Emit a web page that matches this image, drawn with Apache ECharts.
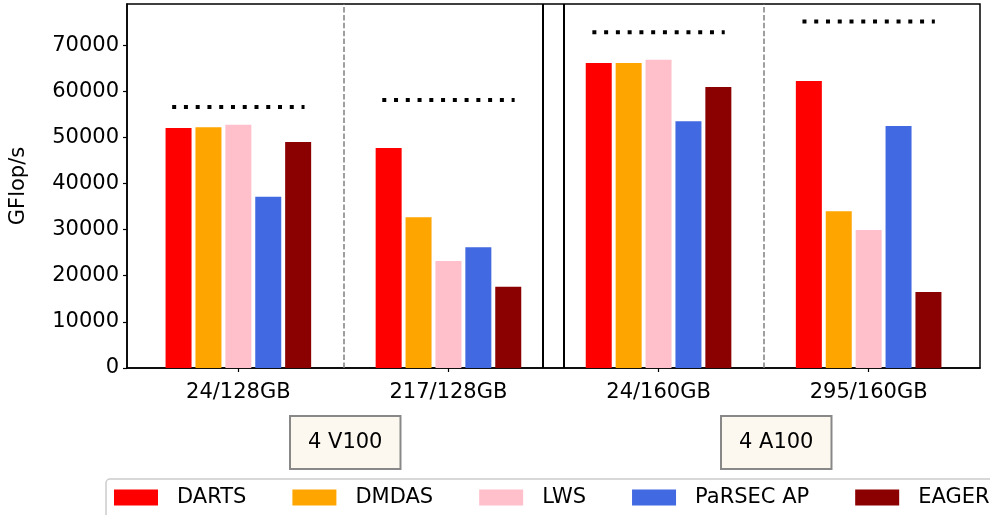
<!DOCTYPE html>
<html>
<head>
<meta charset="utf-8">
<title>GFlop/s per configuration</title>
<script src="https://cdn.jsdelivr.net/npm/echarts@6/dist/echarts.min.js"></script>
<style>
  html, body { margin: 0; padding: 0; background: #ffffff; }
  #chart { width: 990px; height: 515px; }
</style>
</head>
<body>
<div id="chart"></div>
<script>
// Problem size / memory configurations, two per GPU platform
const categories = ['24/128GB', '217/128GB', '24/160GB', '295/160GB'];
const platforms = ['4 V100', '4 A100'];

// Scheduler names and measured throughput (GFlop/s)
const schedulers = ['DARTS', 'DMDAS', 'LWS', 'PaRSEC AP', 'EAGER'];
const darts  = [52000, 47700, 66100, 62200];
const dmdas  = [52200, 32700, 66100, 34000];
const lws    = [52700, 23200, 66800, 29900];
const parsec = [37100, 26200, 53500, 52450];
const eager  = [49000, 17600, 60900, 16500];

// Theoretical peak for each configuration (dotted line above each group)
const peak = [56600, 58100, 72800, 75100];

// Y-axis tick labels
const yTicks = [0, 10000, 20000, 30000, 40000, 50000, 60000, 70000];

const seriesValues = [darts, dmdas, lws, parsec, eager];
const colors = ['#ff0000', '#ffa500', '#ffc0cb', '#4169e1', '#8b0000'];

const FONT = 'DejaVu Sans';
const PEAK_HALF_SPAN = 0.315;   // half length of the peak marker, in group units

const chart = echarts.init(document.getElementById('chart'), null, { renderer: 'canvas' });

const groupIdx = categories.map((_, i) => i);

const barSeries = schedulers.map((name, s) => ({
  name: name,
  type: 'bar',
  barWidth: 26,
  barGap: '15%',
  itemStyle: { color: colors[s] },
  data: seriesValues[s].map((v, i) => [i, v]),
  animation: false
}));

// Peak markers: one horizontal dotted segment per group, broken between groups
const peakData = [];
peak.forEach((p, i) => {
  peakData.push([i - PEAK_HALF_SPAN, p]);
  peakData.push([i + PEAK_HALF_SPAN, p]);
  peakData.push([i + 0.5, '-']);
});

// Separators: dashed between the two sizes of a platform, double line between platforms
const dashedSep = [0.5, 2.5];
const platformSep = [1.45, 1.55];

const peakSeries = {
  name: 'peak',
  type: 'line',
  data: peakData,
  showSymbol: false,
  symbol: 'none',
  connectNulls: false,
  lineStyle: { color: '#000000', width: 4, type: [4, 7.76], cap: 'butt' },
  animation: false,
  z: 5,
  markLine: {
    silent: true,
    symbol: ['none', 'none'],
    label: { show: false },
    animation: false,
    data: [
      ...dashedSep.map(x => ({ xAxis: x, lineStyle: { color: '#808080', width: 1.5, type: [5.5, 2.4] } })),
      ...platformSep.map(x => ({ xAxis: x, lineStyle: { color: '#000000', width: 2, type: 'solid' } }))
    ]
  }
};

const option = {
  backgroundColor: '#ffffff',
  textStyle: { fontFamily: FONT },
  grid: {
    left: 124, right: 10, top: 4, bottom: 147,
    show: true, borderColor: '#000000', borderWidth: 1.5,
    containLabel: false
  },
  xAxis: {
    type: 'value',
    min: -0.53,
    max: 3.53,
    splitLine: { show: false },
    axisLine: { show: true, onZero: false, lineStyle: { color: '#000000', width: 1.5 } },
    axisTick: {
      show: true, inside: false, length: 4,
      customValues: groupIdx,
      lineStyle: { color: '#000000', width: 1.2 }
    },
    axisLabel: {
      customValues: groupIdx,
      formatter: v => categories[Math.round(v)],
      color: '#000000', fontSize: 21, fontFamily: FONT, margin: 14
    }
  },
  yAxis: {
    type: 'value',
    min: 0,
    max: 78900,
    name: 'GFlop/s',
    nameLocation: 'middle',
    nameRotate: 90,
    nameGap: 98,
    nameTextStyle: { color: '#000000', fontSize: 21, fontFamily: FONT },
    splitLine: { show: false },
    axisLine: { show: true, onZero: false, lineStyle: { color: '#000000', width: 1.5 } },
    axisTick: {
      show: true, inside: false, length: 4,
      customValues: yTicks,
      lineStyle: { color: '#000000', width: 1.2 }
    },
    axisLabel: {
      customValues: yTicks,
      formatter: v => String(v),
      color: '#000000', fontSize: 21, fontFamily: FONT, margin: 8
    }
  },
  legend: {
    data: schedulers,
    orient: 'horizontal',
    left: 106,
    top: 479,
    width: 1000,
    padding: [8, 24, 14, 8],
    icon: 'rect',
    itemWidth: 44,
    itemHeight: 16,
    itemGap: 46,
    backgroundColor: '#ffffff',
    borderColor: '#cccccc',
    borderWidth: 1.5,
    borderRadius: 4,
    selectedMode: false,
    textStyle: { color: '#000000', fontSize: 21, fontFamily: FONT, padding: [0, 0, 0, 14] }
  },
  graphic: platforms.map((label, k) => ({
    type: 'text',
    x: k === 0 ? 291 : 722,
    y: 417,
    silent: true,
    style: {
      text: label,
      font: '21px "DejaVu Sans"',
      fill: '#000000',
      backgroundColor: '#fdf8ef',
      borderColor: '#888888',
      borderWidth: 2,
      padding: [15, 17, 15, 17]
    }
  })),
  series: [...barSeries, peakSeries]
};

chart.setOption(option);
</script>
</body>
</html>
